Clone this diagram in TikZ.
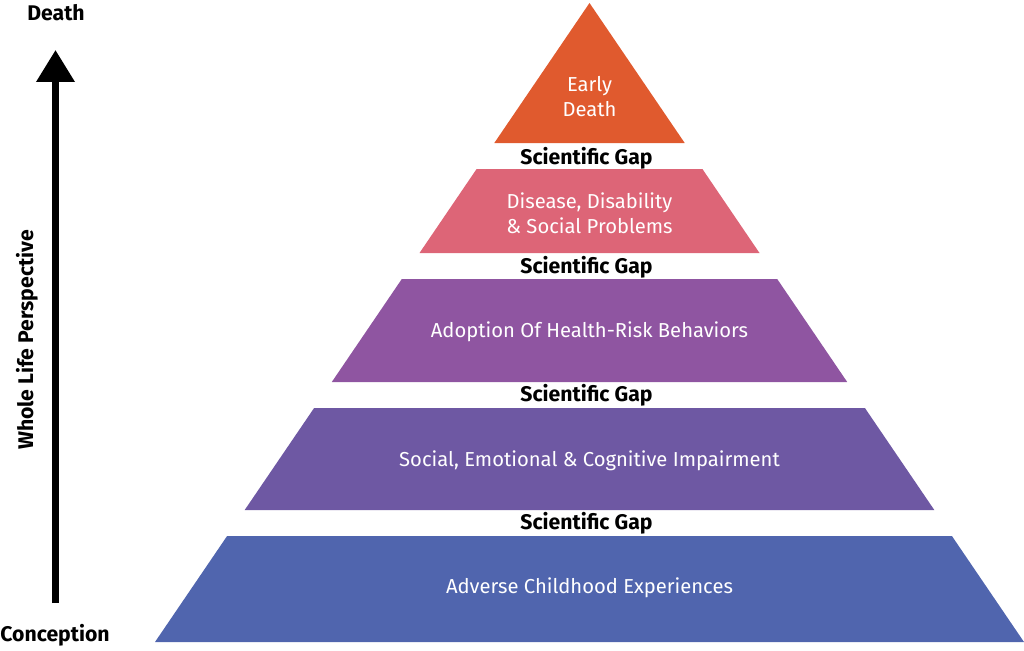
\documentclass[tikz,border=0pt]{standalone}
\usepackage{fontspec}
\setmainfont{Fira Sans}
\usetikzlibrary{arrows.meta}
\definecolor{cOrange}{RGB}{224,90,46}
\definecolor{cPink}{RGB}{221,101,119}
\definecolor{cPurple}{RGB}{143,85,161}
\definecolor{cViolet}{RGB}{110,88,163}
\definecolor{cBlue}{RGB}{80,101,174}
\tikzset{
  tiertext/.style={text=white, font=\fontsize{20.2}{25}\selectfont, align=center, inner sep=0pt},
  gaptext/.style={text=black, font=\bfseries\fontsize{21.2}{24}\selectfont, inner sep=0pt},
  sidetext/.style={text=black, font=\bfseries\fontsize{21.2}{24}\selectfont, inner sep=0pt},
}
\begin{document}
\begin{tikzpicture}[x=1pt,y=-1pt]
\useasboundingbox (0,0) rectangle (1024,650);
% tiers
\fill[cOrange] (589.5,3) -- (684.7,143) -- (494.3,143) -- cycle;
\fill[cPink] (476.6,169) -- (702.4,169) -- (759.5,253) -- (419.5,253) -- cycle;
\fill[cPurple] (401.8,279) -- (777.2,279) -- (847.2,382) -- (331.8,382) -- cycle;
\fill[cViolet] (314.1,408) -- (864.9,408) -- (934.3,510) -- (244.7,510) -- cycle;
\fill[cBlue] (227.1,536) -- (951.9,536) -- (1024,642) -- (155,642) -- cycle;
% tier labels
\node[tiertext] (t1) at (589.5,96.5) {Early\\Death};
\node[tiertext] (t2) at (589.5,213.5) {Disease, Disability\\\& Social Problems};
\node[tiertext] (t3) at (589.5,332) {Adoption Of Health-Risk Behaviors};
\node[tiertext] (t4) at (589.5,461) {Social, Emotional \& Cognitive Impairment};
\node[tiertext] (t5) at (589.5,588) {Adverse Childhood Experiences};
% gaps
\node[gaptext] (g1) at (586.5,158) {Scientific Gap};
\node[gaptext] (g2) at (586.5,267) {Scientific Gap};
\node[gaptext] (g3) at (586.5,395) {Scientific Gap};
\node[gaptext] (g4) at (586.5,523) {Scientific Gap};
% axis
\coordinate (abot) at (55.5,603);
\coordinate (atop) at (55.5,50);
\draw[line width=7pt, -{Triangle[width=37pt,length=32pt]}] (abot) -- (atop);
\node[sidetext] (death) at (56,12.5) {Death};
\node[sidetext] (conc) at (55,635) {Conception};
\node[sidetext, rotate=90] (whole) at (27,340) {Whole Life Perspective};
\end{tikzpicture}
\end{document}
